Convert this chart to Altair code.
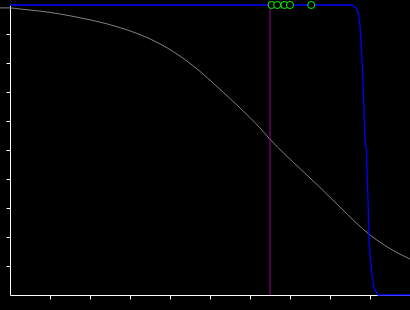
import altair as alt
import pandas as pd

# Gray smooth curve
gray_x = [-0.025, 0.0, 0.025, 0.075, 0.125, 0.175, 0.225, 0.275, 0.325, 0.375, 0.425,
          0.475, 0.525, 0.575, 0.625, 0.65, 0.725, 0.775, 0.825, 0.9, 0.95, 1.0]
gray_y = [0.990, 0.990, 0.986, 0.979, 0.969, 0.956, 0.941, 0.922, 0.898, 0.866, 0.824,
          0.771, 0.709, 0.645, 0.576, 0.537, 0.436, 0.371, 0.303, 0.207, 0.160, 0.124]

# Blue steep curve
blue_x = [0.0, 0.855, 0.865, 0.87, 0.875, 0.88, 0.8825, 0.885, 0.8875, 0.891,
          0.8925, 0.895, 0.8975, 0.9, 0.905, 0.91, 0.92, 1.0]
blue_y = [1.0, 1.0, 0.99, 0.976, 0.931, 0.81, 0.731, 0.638, 0.534, 0.5,
          0.431, 0.328, 0.2, 0.14, 0.069, 0.024, 0.0, 0.0]

# Green markers
mark_x = [0.654, 0.668, 0.686, 0.70, 0.753]
mark_y = [1.0, 1.0, 1.0, 1.0, 1.0]

# Purple vertical rule
rule_x = [0.65]

tick_vals = [0.1, 0.2, 0.3, 0.4, 0.5, 0.6, 0.7, 0.8, 0.9]

gray_df = pd.DataFrame({"x": gray_x, "y": gray_y})
blue_df = pd.DataFrame({"x": blue_x, "y": blue_y})
mark_df = pd.DataFrame({"x": mark_x, "y": mark_y})
rule_df = pd.DataFrame({"x": rule_x})

xs = alt.Scale(domain=[0, 1], nice=False, zero=False)
ys = alt.Scale(domain=[0, 1], nice=False, zero=False)


def ax():
    return alt.Axis(values=tick_vals, labels=False, title=None, grid=False,
                    labelOverlap=False, domainColor="white", tickColor="white",
                    tickSize=4, domainWidth=1, tickWidth=1)


gray = alt.Chart(gray_df).mark_line(color="#808080", strokeWidth=1, clip=False,
                                    interpolate="monotone").encode(
    x=alt.X("x:Q", scale=xs, axis=ax()),
    y=alt.Y("y:Q", scale=ys, axis=ax()),
    order="x:Q",
)

rule = alt.Chart(rule_df).mark_rule(color="#990099", strokeWidth=1).encode(
    x=alt.X("x:Q", scale=xs, axis=ax()),
)

blue = alt.Chart(blue_df).mark_line(color="#0000ff", strokeWidth=1.3).encode(
    x=alt.X("x:Q", scale=xs, axis=ax()),
    y=alt.Y("y:Q", scale=ys, axis=ax()),
    order="x:Q",
)

pts = alt.Chart(mark_df).mark_point(shape="circle", size=50, filled=True,
                                    fill="black", stroke="#00ff00", strokeWidth=1,
                                    opacity=1, fillOpacity=1).encode(
    x=alt.X("x:Q", scale=xs, axis=ax()),
    y=alt.Y("y:Q", scale=ys, axis=ax()),
)

chart = alt.layer(gray, rule, blue, pts).properties(
    width=400, height=290,
    autosize=alt.AutoSizeParams(type="none"),
    padding={"left": 10, "top": 5, "right": 0, "bottom": 15},
    background="black",
).configure_view(stroke=None)

chart.save("out.html", embed_options={"renderer": "svg", "actions": False})
